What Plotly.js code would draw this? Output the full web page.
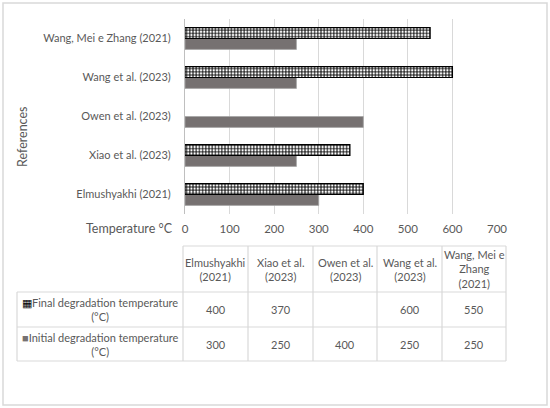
<!DOCTYPE html>
<html><head><meta charset="utf-8">
<script src="https://cdn.plot.ly/plotly-3.0.1.min.js"></script>
<style>html,body{margin:0;padding:0;background:#fff}#chart{width:550px;height:408px}</style>
</head><body><div id="chart"></div>
<script>
const categories = ['Elmushyakhi (2021)', 'Xiao et al. (2023)', 'Owen et al. (2023)', 'Wang et al. (2023)', 'Wang, Mei e Zhang (2021)'];
const tableHeaders = ['Elmushyakhi<br>(2021)', 'Xiao et al.<br>(2023)', 'Owen et al.<br>(2023)', 'Wang et al.<br>(2023)', 'Wang, Mei e<br>Zhang<br>(2021)'];
const finalVals = [400, 370, null, 600, 550];
const initialVals = [300, 250, 400, 250, 250];
const seriesNames = ['Final degradation temperature (°C)', 'Initial degradation temperature (°C)'];
const rowLabels = ['Final degradation temperature<br>(°C)', 'Initial degradation temperature<br>(°C)'];
const xTicks = [0, 100, 200, 300, 400, 500, 600, 700];

const W = 550, H = 408;
const px = v => v / W, py = v => 1 - v / H;
const FONT = 'Lato, "Open Sans", sans-serif';
const TXT = '#595959';
const GRID = '#d9d9d9';
const INIT_COLOR = '#767171';

const traces = [
  {type: 'bar', orientation: 'h', name: seriesNames[1], y: categories, x: initialVals,
   marker: {color: INIT_COLOR, line: {color: '#a6a6a6', width: 0.8}}, showlegend: false, hoverinfo: 'skip'},
  {type: 'bar', orientation: 'h', name: seriesNames[0], y: categories, x: finalVals,
   marker: {color: '#ffffff', line: {color: '#000000', width: 1.2},
            pattern: {shape: '+', fgcolor: '#000000', bgcolor: '#ffffff', size: 3.2, solidity: 0.5}},
   showlegend: false, hoverinfo: 'skip'}
];

// data table layout (column edges / row edges in pixels)
const colEdges = [17, 183, 248, 313, 377, 442, 506];
const rowEdges = [246, 292, 327, 361];
const shapes = [
  {type: 'rect', xref: 'paper', yref: 'paper', x0: px(3), x1: px(547), y0: py(405), y1: py(3),
   line: {color: GRID, width: 1.5}, fillcolor: 'rgba(0,0,0,0)', layer: 'below'}
];
const tline = (x0, y0, x1, y1) => shapes.push({type: 'line', xref: 'paper', yref: 'paper',
  x0: px(x0), y0: py(y0), x1: px(x1), y1: py(y1), line: {color: GRID, width: 1.2}});
rowEdges.forEach((y, i) => tline(i === 0 ? colEdges[1] : colEdges[0], y, colEdges[colEdges.length - 1], y));
colEdges.forEach((x, i) => tline(x, i === 0 ? rowEdges[1] : rowEdges[0], x, rowEdges[rowEdges.length - 1]));

const annotations = [
  {xref: 'paper', yref: 'paper', x: px(129), y: py(228), text: 'Temperature °C', showarrow: false,
   font: {family: FONT, size: 12.5, color: TXT}, xanchor: 'center', yanchor: 'middle'},
  {xref: 'paper', yref: 'paper', x: px(23), y: py(137), text: 'References', showarrow: false, textangle: -90,
   font: {family: FONT, size: 12.5, color: TXT}, xanchor: 'center', yanchor: 'middle'}
];
const cellText = (col, row, text) => annotations.push({xref: 'paper', yref: 'paper',
  x: px((colEdges[col] + colEdges[col + 1]) / 2), y: py((rowEdges[row] + rowEdges[row + 1]) / 2),
  text: text, showarrow: false, align: 'center', xanchor: 'center', yanchor: 'middle',
  font: {family: FONT, size: 11, color: TXT}});
tableHeaders.forEach((h, i) => cellText(i + 1, 0, h));
cellText(0, 1, '<span style="color:#000000">▦</span>' + rowLabels[0]);
cellText(0, 2, '<span style="color:' + INIT_COLOR + '">■</span>' + rowLabels[1]);
finalVals.forEach((v, i) => cellText(i + 1, 1, v === null ? '' : String(v)));
initialVals.forEach((v, i) => cellText(i + 1, 2, String(v)));

const layout = {
  width: W, height: H, margin: {l: 0, r: 0, t: 0, b: 0},
  paper_bgcolor: '#ffffff', plot_bgcolor: '#ffffff',
  barmode: 'group', bargap: 0.44, bargroupgap: 0,
  font: {family: FONT, color: TXT},
  xaxis: {domain: [px(185), px(497)], range: [0, 700], tickvals: xTicks, showgrid: true,
          gridcolor: GRID, gridwidth: 1, zeroline: false, showline: false,
          tickfont: {family: FONT, size: 11.5, color: TXT}, ticklabelstandoff: 6, fixedrange: true},
  yaxis: {domain: [py(214), py(19)], showgrid: false, zeroline: false,
          showline: true, linecolor: '#bfbfbf', linewidth: 1,
          tickfont: {family: FONT, size: 11, color: TXT}, ticklabelstandoff: 11, fixedrange: true},
  annotations: annotations,
  shapes: shapes
};

Plotly.newPlot('chart', traces, layout, {displayModeBar: false, staticPlot: true});
</script></body></html>
